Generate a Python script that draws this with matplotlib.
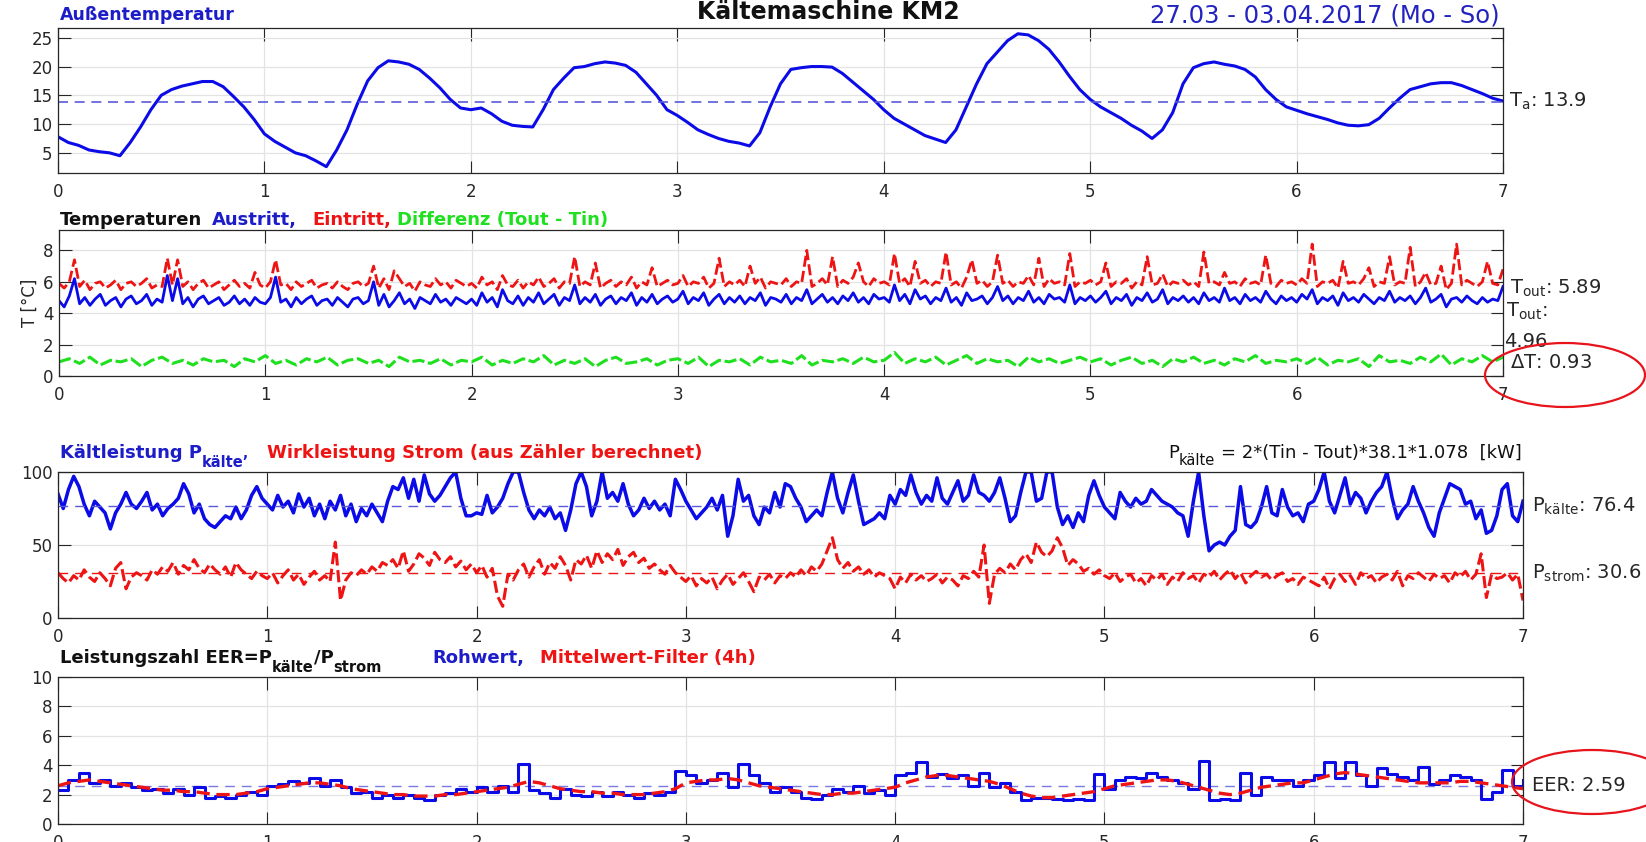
import numpy as np
import matplotlib
matplotlib.use("Agg")
import matplotlib.pyplot as plt
from matplotlib.patches import Ellipse
from matplotlib.transforms import blended_transform_factory

plt.rcParams['font.family'] = ['DejaVu Sans']
plt.rcParams['mathtext.fontset'] = 'dejavusans'

W, H = 1646, 842

# ---- Daten ----
# Außentemperatur, Schritt 0.05 Tage
t_aussen = [7.8, 6.8, 6.3, 5.5, 5.2, 5.0, 4.5, 6.8, 9.5, 12.5, 15.0, 16.0, 16.6, 17.0, 17.4, 17.4, 16.5, 14.8, 13.0, 10.8,
            8.3, 7.0, 6.0, 5.0, 4.5, 3.6, 2.6, 5.5, 9.0, 13.5, 17.5, 19.8, 21.0, 20.8, 20.4, 19.5, 18.0, 16.3, 14.3, 12.8,
            12.5, 12.8, 11.8, 10.5, 9.8, 9.6, 9.5, 12.5, 16.0, 18.0, 19.8, 20.0, 20.5, 20.8, 20.6, 20.2, 19.0, 17.0, 15.0, 12.5,
            11.5, 10.3, 9.0, 8.2, 7.5, 7.0, 6.7, 6.2, 8.5, 13.0, 17.0, 19.5, 19.8, 20.0, 20.0, 19.9, 18.8, 17.3, 15.8, 14.3,
            12.5, 11.0, 10.0, 9.0, 8.0, 7.4, 6.8, 9.0, 13.0, 17.0, 20.5, 22.5, 24.5, 25.7, 25.5, 24.5, 23.0, 20.8, 18.3, 16.0,
            14.3, 13.0, 12.0, 11.0, 9.8, 8.8, 7.5, 9.0, 12.0, 17.0, 19.8, 20.5, 20.8, 20.4, 20.1, 19.5, 18.2, 16.0, 14.3, 13.0,
            12.4, 11.8, 11.3, 10.8, 10.2, 9.8, 9.7, 9.9, 11.0, 12.8, 14.5, 16.0, 16.5, 17.0, 17.2, 17.2, 16.7, 16.0, 15.3, 14.5,
            14.0]
ta_mean = 13.9

# Austritt (blau), Schritt 0.025 Tage
t_austritt = [4.8, 4.4, 5.1, 6.2, 4.6, 5.0, 4.5, 4.9, 5.2, 4.5, 4.8, 5.0, 4.4, 4.9, 5.1, 4.6, 4.8, 5.2, 4.5, 4.9,
              4.7, 6.4, 4.8, 6.2, 4.6, 5.0, 4.4, 4.9, 5.1, 4.6, 4.8, 5.0, 4.5, 4.7, 5.1, 4.6, 4.9, 4.5, 5.0, 4.7,
              4.6, 5.0, 6.3, 4.7, 4.9, 4.4, 5.0, 4.6, 4.9, 5.1, 4.5, 4.8, 4.9, 4.5, 5.0, 4.7, 4.4, 4.9, 5.0, 4.6,
              4.8, 6.0, 4.5, 5.2, 4.4, 4.8, 5.3, 4.6, 4.9, 4.3, 5.0, 4.8, 4.6, 5.2, 4.7, 4.9, 4.5, 5.0, 4.8, 4.6,
              4.9, 4.5, 5.3, 4.7, 5.0, 4.4, 5.5, 4.8, 4.6, 5.1, 4.5, 5.0, 4.7, 5.3, 4.6, 4.9, 5.2, 4.5, 5.0, 4.8,
              5.8, 4.6, 5.0, 4.7, 5.2, 4.5, 4.9, 5.1, 4.6, 5.0, 4.8, 5.3, 4.5, 5.0, 4.7, 5.2, 4.6, 4.9, 5.1, 4.7,
              4.9, 5.4, 4.6, 5.0, 4.8, 5.3, 4.5, 4.9, 5.2, 4.6, 5.0, 4.7, 5.1, 4.6, 5.0, 4.8, 5.3, 4.5, 5.0, 4.9,
              4.7, 5.2, 4.6, 5.0, 4.8, 5.5, 4.6, 4.9, 5.2, 4.7, 5.0, 4.6, 5.1, 4.8, 5.3, 4.7, 5.0, 4.6, 5.2, 4.9,
              5.0, 4.7, 5.8, 4.8, 5.2, 4.6, 5.5, 4.9, 5.1, 4.6, 5.0, 4.8, 5.6, 4.7, 5.0, 4.5, 5.3, 4.8, 4.9, 5.1,
              4.6, 5.0, 5.7, 4.8, 5.1, 4.6, 5.0, 4.8, 5.4, 4.7, 5.0, 4.6, 5.2, 4.9, 5.0, 4.7, 5.8, 4.6, 5.0, 4.8,
              5.1, 4.7, 5.0, 5.4, 4.6, 5.0, 4.8, 5.2, 4.5, 5.0, 4.8, 5.3, 4.7, 4.9, 5.5, 4.6, 5.0, 4.8, 5.1, 4.7,
              5.0, 4.6, 5.3, 4.8, 5.0, 4.7, 5.6, 4.8, 5.0, 4.6, 5.2, 4.8, 5.0, 4.7, 5.4, 4.9, 4.6, 5.1, 4.8, 5.0,
              4.7, 5.2, 4.9, 5.5, 4.6, 5.0, 4.8, 5.1, 4.5, 5.3, 4.8, 5.0, 4.7, 5.2, 4.9, 4.6, 5.0, 4.8, 5.4, 4.7,
              5.0, 4.8, 5.1, 4.6, 5.0, 5.6, 4.7, 4.9, 5.2, 4.4, 4.9, 5.0, 4.7, 5.1, 4.8, 4.6, 5.0, 4.7, 4.9, 4.8,
              5.7]

# Eintritt (rot), Schritt 0.025 Tage
t_eintritt = [5.9, 5.6, 6.0, 7.4, 5.7, 6.1, 5.5, 5.9, 6.0, 5.6, 5.8, 6.1, 5.5, 5.9, 6.0, 5.7, 5.9, 6.2, 5.6, 5.8,
              5.7, 7.5, 5.8, 7.4, 5.7, 6.0, 5.5, 5.9, 6.1, 5.6, 5.8, 6.0, 5.5, 5.8, 6.1, 5.7, 5.9, 5.6, 6.6, 5.8,
              5.6, 6.0, 7.4, 5.8, 5.9, 5.5, 6.0, 5.7, 5.9, 6.1, 5.6, 5.8, 5.9, 5.6, 6.0, 5.7, 5.5, 5.9, 6.0, 5.7,
              5.9, 7.0, 5.6, 6.2, 5.5, 6.7, 6.2, 5.7, 5.9, 5.4, 6.0, 5.8, 5.7, 6.2, 5.8, 6.0, 5.6, 6.1, 5.9, 5.7,
              5.9, 5.6, 6.3, 5.8, 6.0, 5.5, 6.4, 5.8, 5.7, 6.1, 5.6, 6.0, 5.8, 6.3, 5.7, 5.9, 6.2, 5.6, 6.0, 5.9,
              7.6, 5.7, 6.0, 5.8, 7.2, 5.6, 5.9, 6.1, 5.7, 6.0, 5.8, 6.3, 5.6, 6.0, 5.8, 6.9, 5.7, 5.9, 6.1, 5.8,
              5.9, 6.4, 5.7, 6.0, 5.9, 6.3, 5.6, 5.9, 7.5, 5.7, 6.0, 5.8, 6.1, 5.7, 7.0, 5.9, 6.3, 5.6, 6.0, 5.9,
              5.8, 6.2, 5.7, 6.0, 5.9, 8.0, 5.7, 5.9, 6.2, 5.8, 7.6, 5.7, 6.1, 5.9, 6.3, 7.2, 6.0, 5.7, 6.2, 5.9,
              6.0, 5.8, 7.8, 5.9, 6.2, 5.7, 7.3, 5.9, 6.1, 5.7, 6.0, 5.9, 7.9, 5.8, 6.0, 5.6, 6.3, 7.4, 5.9, 6.1,
              5.7, 6.0, 7.7, 5.9, 6.1, 5.7, 6.0, 5.9, 6.4, 5.8, 7.5, 5.7, 6.2, 5.9, 6.0, 5.8, 7.8, 5.7, 6.0, 5.9,
              6.1, 5.8, 6.0, 7.2, 5.7, 6.0, 5.9, 6.2, 5.6, 6.0, 5.8, 7.6, 5.8, 5.9, 6.5, 5.7, 6.0, 5.9, 6.1, 5.8,
              6.0, 5.7, 7.9, 5.9, 6.0, 5.8, 6.6, 5.9, 6.0, 5.7, 6.2, 5.9, 6.0, 5.8, 7.7, 5.9, 5.7, 6.1, 5.9, 6.0,
              5.8, 6.2, 5.9, 8.4, 5.7, 6.0, 5.9, 6.1, 5.6, 7.3, 5.9, 6.0, 5.8, 6.2, 6.9, 5.7, 6.0, 5.9, 7.6, 5.8,
              6.0, 5.9, 8.2, 5.7, 6.0, 6.6, 5.8, 5.9, 7.0, 5.5, 5.9, 8.4, 5.8, 6.1, 5.9, 5.7, 6.0, 7.3, 5.9, 5.8,
              6.8]

# Differenz (gruen), Schritt 0.05 Tage
t_diff = [0.9, 1.1, 0.8, 1.2, 0.7, 1.0, 0.9, 1.1, 0.6, 1.0, 1.2, 0.8, 1.0, 0.7, 1.1, 0.9, 1.0, 0.6, 1.1, 0.9,
          1.3, 0.8, 1.0, 0.7, 1.1, 0.9, 1.2, 0.7, 1.0, 1.1, 0.8, 1.0, 0.6, 1.2, 0.9, 1.0, 0.8, 1.1, 0.7, 1.0,
          0.9, 1.2, 0.7, 1.0, 0.8, 1.1, 0.9, 1.3, 0.7, 1.0, 0.8, 1.1, 0.6, 1.0, 1.2, 0.8, 0.9, 1.1, 0.7, 1.0,
          1.1, 0.8, 1.2, 0.6, 1.0, 0.9, 1.1, 0.7, 1.2, 0.9, 1.0, 0.8, 1.3, 0.7, 1.0, 0.9, 1.1, 0.8, 1.2, 0.9,
          1.0, 1.5, 0.8, 1.1, 0.9, 1.2, 0.7, 1.0, 1.3, 0.8, 1.1, 0.9, 1.0, 0.6, 1.2, 0.9, 1.1, 0.8, 1.0, 1.2,
          0.9, 1.1, 0.7, 1.0, 1.2, 0.8, 1.0, 0.6, 1.1, 0.9, 1.2, 0.8, 1.0, 0.7, 1.1, 0.9, 1.3, 0.8, 1.0, 0.9,
          1.1, 0.8, 1.2, 0.7, 1.0, 0.9, 1.1, 0.6, 1.3, 0.9, 1.0, 0.8, 1.2, 0.9, 1.4, 0.7, 1.1, 0.9, 1.3, 0.9,
          1.2]

# Kaelteleistung (blau), Schritt 0.025 Tage
p_kaelte = [85, 75, 88, 97, 90, 78, 70, 80, 76, 72, 61, 72, 78, 86, 78, 75, 80, 86, 74, 78,
            70, 75, 78, 82, 92, 85, 72, 78, 68, 64, 62, 66, 70, 68, 76, 68, 74, 84, 90, 82,
            78, 74, 84, 76, 80, 72, 85, 76, 82, 70, 78, 68, 80, 74, 84, 70, 78, 66, 75, 70,
            78, 72, 66, 80, 90, 88, 96, 82, 95, 80, 98, 85, 80, 84, 90, 96, 100, 82, 70, 70,
            72, 71, 84, 72, 76, 82, 92, 100, 100, 86, 74, 68, 74, 70, 76, 68, 72, 60, 74, 92,
            100, 90, 70, 80, 100, 82, 86, 80, 92, 78, 70, 74, 82, 75, 80, 74, 78, 70, 95, 88,
            80, 74, 68, 72, 76, 82, 74, 84, 56, 70, 95, 80, 84, 70, 64, 76, 72, 86, 76, 92,
            90, 82, 76, 66, 70, 74, 70, 86, 100, 82, 72, 86, 98, 80, 64, 66, 68, 72, 68, 84,
            78, 88, 84, 98, 86, 78, 84, 80, 96, 82, 78, 86, 94, 80, 84, 98, 86, 84, 80, 86,
            96, 82, 66, 70, 86, 100, 100, 80, 82, 100, 100, 76, 64, 70, 62, 72, 66, 84, 94, 84,
            76, 72, 68, 86, 80, 76, 82, 78, 80, 88, 84, 80, 78, 76, 72, 70, 56, 80, 100, 70,
            46, 50, 52, 50, 56, 60, 90, 64, 62, 66, 76, 90, 72, 70, 88, 76, 70, 72, 66, 78,
            80, 88, 100, 80, 72, 84, 96, 78, 86, 82, 72, 80, 86, 90, 100, 82, 68, 74, 78, 90,
            80, 72, 62, 56, 72, 82, 92, 90, 88, 78, 80, 68, 74, 58, 60, 70, 88, 92, 70, 66,
            80]
pk_mean = 76.4

# Wirkleistung Strom (rot), Schritt 0.025 Tage
p_strom = [31, 27, 24, 29, 26, 33, 28, 25, 31, 27, 22, 34, 38, 20, 28, 31, 29, 26, 33, 30,
           35, 32, 38, 30, 36, 33, 40, 34, 31, 37, 33, 30, 35, 28, 38, 33, 30, 27, 32, 29,
           27, 31, 24, 29, 33, 26, 30, 23, 28, 32, 26, 29, 25, 52, 12, 26, 31, 29, 33, 30,
           35, 32, 38, 36, 40, 34, 46, 32, 37, 44, 41, 36, 45, 40, 38, 42, 35, 39, 33, 37,
           31, 36, 28, 34, 15, 8, 30, 26, 33, 37, 28, 35, 40, 30, 38, 34, 42, 36, 26, 40,
           37, 43, 34, 46, 38, 44, 40, 47, 36, 42, 45, 38, 41, 34, 37, 33, 30, 36, 31, 28,
           25, 29, 22, 27, 24, 28, 20, 26, 30, 23, 27, 31, 25, 18, 28, 26, 30, 24, 29, 27,
           31, 28, 33, 29, 35, 32, 37, 46, 55, 40, 34, 38, 32, 35, 30, 33, 28, 31, 29, 27,
           20, 28, 24, 30, 26, 29, 25, 27, 30, 24, 28, 26, 22, 29, 27, 32, 28, 50, 10, 30,
           34, 31, 37, 33, 40, 44, 38, 52, 45, 42, 46, 55, 48, 36, 40, 37, 32, 34, 30, 33,
           29, 27, 31, 25, 28, 30, 24, 27, 22, 29, 26, 30, 23, 28, 25, 31, 27, 29, 24, 30,
           28, 32, 26, 30, 33, 27, 31, 24, 29, 32, 28, 30, 26, 29, 31, 25, 27, 23, 28, 26,
           24, 22, 28, 20, 27, 30, 25, 29, 23, 31, 27, 29, 24, 28, 30, 26, 32, 22, 29, 27,
           31, 28, 25, 30, 27, 29, 24, 31, 28, 32, 26, 30, 44, 14, 30, 27, 28, 31, 26, 30,
           12]
ps_mean = 30.6

# EER Rohwert (blau) und Mittelwert-Filter 4h (rot), Schritt 0.05 Tage
eer_roh = [2.3, 3.0, 3.5, 2.8, 3.0, 2.6, 2.8, 2.5, 2.3, 2.4, 2.1, 2.4, 2.0, 2.5, 1.8, 1.9, 1.8, 2.0, 2.2, 2.0,
           2.6, 2.7, 2.9, 2.8, 3.1, 2.6, 3.0, 2.5, 2.1, 2.2, 1.8, 2.0, 1.8, 2.0, 1.8, 1.6, 2.0, 2.1, 2.4, 2.2,
           2.5, 2.2, 2.6, 2.2, 4.1, 2.3, 2.1, 1.8, 2.4, 2.0, 1.9, 2.2, 1.9, 2.2, 2.0, 1.8, 2.1, 2.0, 2.2, 3.6,
           3.3, 2.8, 3.0, 3.5, 2.5, 4.1, 3.3, 2.8, 2.2, 2.5, 2.2, 1.8, 1.7, 2.0, 2.4, 2.2, 2.6, 2.1, 2.3, 2.0,
           3.3, 3.5, 4.2, 3.2, 3.4, 3.1, 3.3, 2.6, 3.5, 2.5, 2.8, 2.2, 1.6, 1.8, 1.8, 1.7, 1.6, 1.7, 1.6, 3.4,
           2.4, 3.0, 3.2, 3.1, 3.5, 3.2, 3.0, 2.8, 2.4, 4.3, 1.6, 1.7, 1.6, 3.5, 2.0, 3.2, 3.0, 3.0, 2.6, 3.0,
           3.3, 4.2, 3.1, 4.2, 3.3, 2.6, 3.8, 3.4, 3.2, 3.0, 3.9, 2.7, 3.0, 3.3, 3.2, 3.0, 1.7, 2.2, 3.7, 2.6,
           3.0]
eer_filter = [2.6, 2.8, 2.9, 3.0, 2.9, 2.8, 2.7, 2.6, 2.5, 2.4, 2.3, 2.3, 2.2, 2.2, 2.1, 2.0, 2.0, 2.0, 2.1, 2.2,
              2.4, 2.5, 2.6, 2.7, 2.8, 2.8, 2.7, 2.6, 2.4, 2.3, 2.2, 2.1, 2.0, 2.0, 1.9, 1.9, 1.9, 2.0, 2.0, 2.1,
              2.2, 2.3, 2.4, 2.5, 2.7, 2.9, 2.8, 2.6, 2.4, 2.3, 2.2, 2.2, 2.1, 2.1, 2.0, 2.0, 2.0, 2.1, 2.2, 2.4,
              2.8, 2.9, 3.0, 3.0, 3.1, 3.0, 2.8, 2.6, 2.5, 2.4, 2.3, 2.2, 2.1, 2.0, 2.0, 2.1, 2.1, 2.2, 2.3, 2.4,
              2.5, 2.8, 3.0, 3.2, 3.3, 3.3, 3.2, 3.1, 3.0, 2.9, 2.7, 2.4, 2.1, 1.9, 1.8, 1.8, 1.9, 2.0, 2.1, 2.2,
              2.4, 2.6, 2.7, 2.8, 2.9, 3.0, 3.0, 2.9, 2.7, 2.5, 2.3, 2.1, 2.0, 2.1, 2.3, 2.5, 2.6, 2.7, 2.8, 2.8,
              3.0, 3.2, 3.4, 3.5, 3.4, 3.3, 3.2, 3.1, 3.0, 2.9, 2.8, 2.8, 2.8, 2.8, 2.9, 2.9, 2.8, 2.7, 2.6, 2.5,
              2.4]
eer_mean = 2.59

BLUE = '#0b0be8'
RED = '#ee1414'
GREEN = '#1fe01f'
TXT = '#262626'
TBLUE = '#1c1cc8'
BLACK = '#111111'


def days(series):
    return np.linspace(0, 7, len(series))


def fx(px):
    return px / W


def fy(py):
    return 1 - py / H


def make_axes(left, right, top, bottom):
    return fig.add_axes([fx(left), fy(bottom), (right - left) / W, (bottom - top) / H])


def style(ax, ylim, yticks):
    ax.set_xlim(0, 7)
    ax.set_ylim(*ylim)
    ax.set_xticks(range(8))
    ax.set_yticks(yticks)
    ax.grid(True, color='#e3e3e3', lw=0.9)
    ax.set_axisbelow(True)
    ax.tick_params(direction='in', length=9, width=0.8, top=True, right=True,
                   labelsize=12, colors=TXT)
    ax.tick_params(axis='x', pad=7)
    ax.tick_params(axis='y', pad=4)
    for s in ax.spines.values():
        s.set_color(TXT)
        s.set_linewidth(0.9)


def rich(x0, yb, pieces, size, weight='bold', ha='left', sub_size=10.5, sub_drop=9, gap=6):
    # Text aus farbigen Stuecken, Tiefstellung als eigenes Stueck
    r = fig.canvas.get_renderer()
    placed = []
    x = 0
    for text, color, sub, at in pieces:
        if at is not None:
            x = max(at - x0, x + gap if placed else 0)
        t = fig.text(0, 0, text, fontsize=sub_size if sub else size, fontweight=weight,
                     color=color, va='baseline')
        w = t.get_window_extent(renderer=r).width
        placed.append((t, x, sub))
        x += w
    start = x0 - x if ha == 'right' else x0
    for t, off, sub in placed:
        t.set_position((fx(start + off), fy(yb + (sub_drop if sub else 0))))


fig = plt.figure(figsize=(W / 100, H / 100), dpi=100)

# Panel 1: Außentemperatur
ax1 = make_axes(58, 1503, 28, 173)
ax1.plot(days(t_aussen), t_aussen, color=BLUE, lw=2.2)
ax1.axhline(ta_mean, color='#5a5ad8', lw=1.2, ls=(0, (6, 4)))
style(ax1, (1.5, 26.7), [5, 10, 15, 20, 25])
tr1 = blended_transform_factory(ax1.transAxes, ax1.transData)
ax1.text(1.004, ta_mean, r'T$_{\mathregular{a}}$: 13.9', transform=tr1, fontsize=14,
         color=TXT, va='center', ha='left')

# Panel 2: Temperaturen
ax2 = make_axes(59, 1503, 230, 376)
ax2.plot(days(t_eintritt), t_eintritt, color=RED, lw=2.0, ls=(0, (4, 1.5)))
ax2.plot(days(t_austritt), t_austritt, color=BLUE, lw=2.0)
ax2.plot(days(t_diff), t_diff, color=GREEN, lw=2.2, ls=(0, (4, 1.2)))
style(ax2, (0, 9.3), [0, 2, 4, 6, 8])
tr2 = blended_transform_factory(ax2.transAxes, ax2.transData)
ax2.text(1.005, 5.6, r'T$_{\mathregular{out}}$: 5.89', transform=tr2, fontsize=14, color=TXT, va='center')
ax2.text(1.002, 4.1, r'T$_{\mathregular{out}}$:', transform=tr2, fontsize=14, color=TXT, va='center')
ax2.text(1.001, 2.2, '4.96', transform=tr2, fontsize=14, color=TXT, va='center')
ax2.text(1.005, 0.85, r'$\Delta$T: 0.93', transform=tr2, fontsize=14, color=TXT, va='center')
fig.text(fx(30), fy(303), 'T [°C]', rotation=90, fontsize=12, color=TXT, ha='center', va='center')

# Panel 3: Leistungen
ax3 = make_axes(58, 1523, 472, 618)
ax3.plot(days(p_strom), p_strom, color=RED, lw=2.2, ls=(0, (4, 1.5)))
ax3.plot(days(p_kaelte), p_kaelte, color=BLUE, lw=2.5)
ax3.axhline(pk_mean, color='#5a5ad8', lw=1.0, ls=(0, (7, 5)))
ax3.axhline(ps_mean, color=RED, lw=1.0, ls=(0, (7, 5)))
style(ax3, (0, 100), [0, 50, 100])
tr3 = blended_transform_factory(ax3.transAxes, ax3.transData)
ax3.text(1.006, pk_mean, r'P$_{\mathregular{kälte}}$: 76.4', transform=tr3, fontsize=14, color=TXT, va='center')
ax3.text(1.006, ps_mean, r'P$_{\mathregular{strom}}$: 30.6', transform=tr3, fontsize=14, color=TXT, va='center')

# Panel 4: EER
ax4 = make_axes(58, 1523, 677, 824)
ax4.axhline(eer_mean, color='#7a7ae0', lw=1.0, ls=(0, (7, 5)))
ax4.step(days(eer_roh), eer_roh, where='post', color=BLUE, lw=2.2)
ax4.plot(days(eer_filter), eer_filter, color=RED, lw=2.4, ls=(0, (4, 2)))
style(ax4, (0, 10), [0, 2, 4, 6, 8, 10])
tr4 = blended_transform_factory(ax4.transAxes, ax4.transData)
ax4.text(1.006, eer_mean, 'EER: 2.59', transform=tr4, fontsize=14, color=TXT, va='center')

# Titel
fig.text(fx(697), fy(12), 'Kältemaschine KM2', fontsize=17, fontweight='bold', color=BLACK, va='center')
fig.text(fx(1500), fy(15), '27.03 - 03.04.2017 (Mo - So)', fontsize=17.5, color='#2323c0', ha='right', va='center')
fig.text(fx(60), fy(15), 'Außentemperatur', fontsize=12.5, fontweight='bold', color=TBLUE, va='center')

rich(60, 225, [('Temperaturen', BLACK, False, 60), ('Austritt,', TBLUE, False, 212),
               ('Eintritt,', RED, False, 312), ('Differenz (Tout - Tin)', GREEN, False, 383)], 13)

rich(60, 458, [('Kältleistung P', TBLUE, False, 60), ('kälte’', TBLUE, True, None),
               ('Wirkleistung Strom (aus Zähler berechnet)', RED, False, 267)], 13)
rich(1522, 458, [('P', BLACK, False, None), ('kälte', BLACK, True, None),
                 ('= 2*(Tin - Tout)*38.1*1.078  [kW]', BLACK, False, 0)], 13,
     weight='normal', ha='right', sub_size=10.5, sub_drop=7)

rich(60, 663, [('Leistungszahl EER=P', BLACK, False, 60), ('kälte', BLACK, True, None),
               ('/P', BLACK, False, None), ('strom', BLACK, True, None),
               ('Rohwert,', TBLUE, False, 432), ('Mittelwert-Filter (4h)', RED, False, 540)], 13)

# rote Markierungen
for cx, cy in [(1565, 375), (1592, 782)]:
    fig.add_artist(Ellipse((fx(cx), fy(cy)), 160 / W, 64 / H, transform=fig.transFigure,
                           fill=False, edgecolor='#e8141c', lw=1.6))

fig.savefig('out.png', dpi=100)
